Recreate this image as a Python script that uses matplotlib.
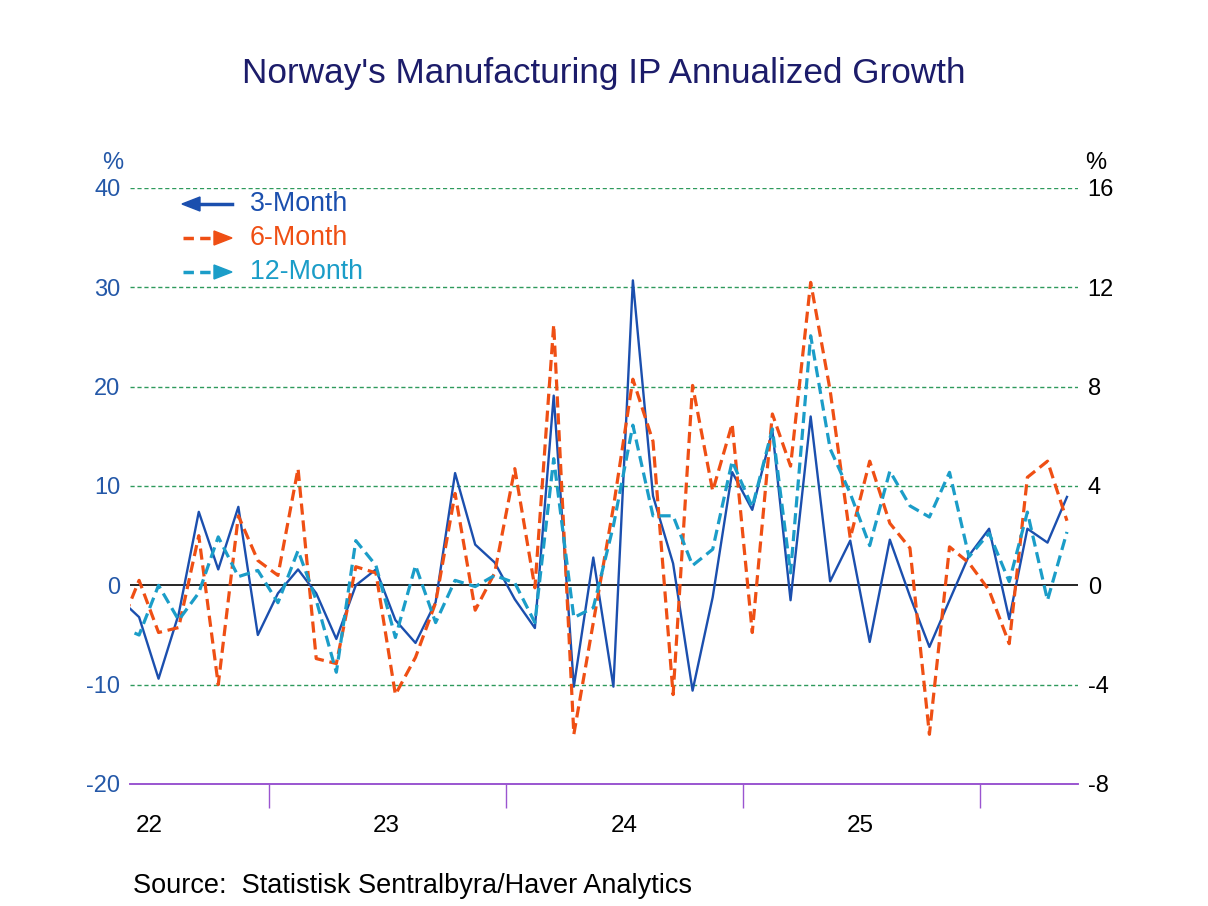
import pandas as pd
import matplotlib
matplotlib.use('Agg')
import matplotlib.pyplot as plt
from matplotlib.lines import Line2D

plt.rcParams['font.family'] = ['Liberation Sans', 'DejaVu Sans']

# monthly data, May 2022 (clipped at left edge) to May 2026
months = pd.date_range('2022-05-01', periods=49, freq='MS') + pd.Timedelta(days=14)

three_month = [-1.3, -3.2, -9.4, -2.9, 7.4, 1.6, 7.9, -5.0, -0.8, 1.6,
               -0.8, -5.4, 0.0, 1.6, -3.5, -5.8, -1.7, 11.3, 4.1, 2.3,
               -1.4, -4.3, 19.1, -10.2, 2.8, -10.2, 30.7, 9.0, 2.2, -10.6,
               -1.2, 11.4, 7.6, 15.6, -1.5, 17.0, 0.4, 4.5, -5.7, 4.6,
               -1.1, -6.2, -1.5, 3.0, 5.7, -3.4, 5.7, 4.3, 8.9]

six_month = [-1.8, 0.2, -1.9, -1.7, 2.0, -4.0, 2.8, 1.0, 0.4, 4.7,
             -2.95, -3.15, 0.75, 0.5, -4.4, -2.9, -0.7, 3.7, -1.0, 0.5,
             4.7, -0.1, 10.5, -6.0, -1.5, 3.15, 8.3, 5.8, -4.4, 8.05,
             3.8, 6.5, -1.9, 6.9, 4.8, 12.2, 7.85, 1.9, 5.0, 2.5,
             1.5, -6.0, 1.55, 0.9, -0.2, -2.35, 4.35, 5.0, 2.6]

twelve_month = [-1.65, -2.0, 0.0, -1.4, -0.3, 1.95, 0.35, 0.6, -0.7, 1.4,
                -0.6, -3.5, 1.8, 0.8, -2.1, 0.8, -1.5, 0.2, -0.05, 0.4,
                0.1, -1.5, 5.1, -1.3, -0.9, 2.4, 6.45, 2.8, 2.8, 0.8,
                1.45, 5.0, 3.15, 6.3, 0.5, 10.05, 5.5, 3.7, 1.6, 4.6,
                3.2, 2.75, 4.55, 1.15, 2.1, 0.15, 2.95, -0.6, 2.15]

year_labels = ['22', '23', '24', '25']
left_ticks = [-20, -10, 0, 10, 20, 30, 40]
right_ticks = [-8, -4, 0, 4, 8, 12, 16]

blue = '#1b4fae'
orange = '#ef4f14'
teal = '#1b9dc8'
purple = '#9a55d0'
grid_green = '#2e9a5c'

fig = plt.figure(figsize=(12.08, 9.06), dpi=100)
ax = fig.add_axes([130/1208, 1-784/906, 948/1208, 596/906])
ax2 = ax.twinx()

ax.plot(months, three_month, color=blue, lw=1.7, zorder=3)
ax2.plot(months, six_month, color=orange, lw=2.3, dashes=(3.5, 1.8))
ax2.plot(months, twelve_month, color=teal, lw=2.3, dashes=(3.5, 1.8))

xmin, xmax = pd.Timestamp('2022-06-01'), pd.Timestamp('2026-06-01')
ax.set_xlim(xmin, xmax)
ax.set_ylim(-20, 40)
ax2.set_ylim(-8, 16)

# grid lines
for v in left_ticks:
    if v in (0, -20):
        continue
    ax.axhline(v, color=grid_green, lw=1.0, ls=(0, (3, 2)), zorder=1, snap=True)
ax.axhline(0, color='black', lw=1.2, zorder=2)

ax.set_yticks(left_ticks)
ax.set_yticklabels([str(t) for t in left_ticks])
ax.tick_params(axis='y', length=0, pad=7, labelsize=17, labelcolor='#2458a8')
ax2.set_yticks(right_ticks)
ax2.set_yticklabels([str(t) for t in right_ticks])
ax2.tick_params(axis='y', length=0, pad=7, labelsize=17, labelcolor='black')

# year separators and labels
ax.set_xticks([pd.Timestamp(f'20{y}-01-01') for y in ['23', '24', '25', '26']])
ax.set_xticklabels([])
ax.set_xticks([pd.Timestamp(f'20{y}-07-01') for y in year_labels], minor=True)
ax.set_xticklabels(year_labels, minor=True)
ax.tick_params(axis='x', which='major', length=17, width=1, color=purple, direction='out')
ax.tick_params(axis='x', which='minor', length=0, pad=22, labelsize=17.5)

for a in (ax, ax2):
    for s in ['top', 'left', 'right']:
        a.spines[s].set_visible(False)
    a.spines['bottom'].set_color(purple)
    a.spines['bottom'].set_linewidth(1.2)

# title, units, source
fig.text(0.5, 1-73/906, "Norway's Manufacturing IP Annualized Growth",
         ha='center', va='center', fontsize=25.3, color='#1c1c6a')
fig.text(113/1208, 1-163/906, '%', ha='center', va='center', fontsize=17, color='#2458a8')
fig.text(1096/1208, 1-163/906, '%', ha='center', va='center', fontsize=17, color='black')
fig.text(133/1208, 1-886/906, 'Source:  Statistisk Sentralbyra/Haver Analytics',
         ha='left', va='center', fontsize=19.5)

# legend with arrows
legend = [('3-Month', blue, 204, 'left'), ('6-Month', orange, 238, 'right'),
          ('12-Month', teal, 272, 'right')]
for name, col, ypx, side in legend:
    y = 1 - ypx/906
    if side == 'left':
        fig.add_artist(Line2D([196/1208, 232/1208], [y, y], color=col, lw=2.5))
        fig.add_artist(plt.Polygon([[182/1208, y], [200/1208, y + 7/906], [200/1208, y - 7/906]],
                                   closed=True, color=col, transform=fig.transFigure))
    else:
        fig.add_artist(Line2D([183/1208, 218/1208], [y, y], color=col, lw=2.5, dashes=(3, 1.8)))
        fig.add_artist(plt.Polygon([[232/1208, y], [214/1208, y + 7/906], [214/1208, y - 7/906]],
                                   closed=True, color=col, transform=fig.transFigure))
    fig.text(250/1208, y, name, ha='left', va='center', fontsize=19.3, color=col)

fig.savefig('out.png', dpi=100)
